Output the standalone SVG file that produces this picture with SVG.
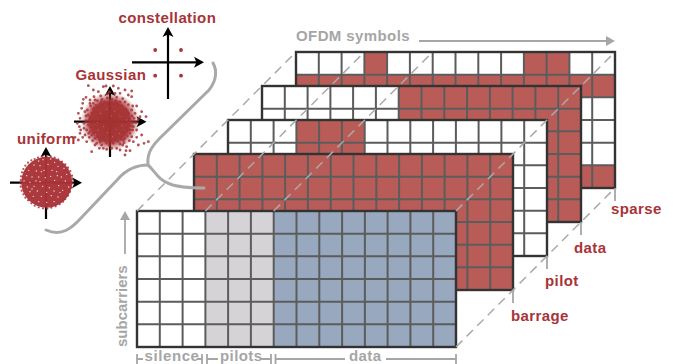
<svg xmlns="http://www.w3.org/2000/svg" width="673" height="364" viewBox="0 0 673 364">
<style>
text{font-family:"Liberation Sans",Arial,sans-serif;font-weight:700;font-size:15px;letter-spacing:.4px}
.lab{fill:#a83338}
.gr{fill:#a6a6a6}
.r{fill:#b95c58}
.w{fill:#fff}
.g{fill:#d5d3d6}
.b{fill:#97a8bf}
.lines{fill:none;stroke:#5c5c5c;stroke-width:2}
.frame{fill:none;stroke:#333;stroke-width:2.4}
.ax{stroke:#000;stroke-width:2.2;fill:none}
.tip{fill:#000}
.curve{fill:none;stroke:#a9a9a9;stroke-width:3;stroke-linecap:round}
.dash{fill:none;stroke:#aaa;stroke-width:1.5;stroke-dasharray:9 6}
.tick{fill:none;stroke:#a6a6a6;stroke-width:1.8}
.pts{fill:none;stroke:#a83338;stroke-linecap:round;stroke-width:8.500;opacity:.85}
</style>
<defs>
<radialGradient id="core">
<stop offset="0" stop-color="#a3302f"/>
<stop offset=".68" stop-color="#a3302f" stop-opacity=".95"/>
<stop offset="1" stop-color="#a83338" stop-opacity="0"/>
</radialGradient>
<g id="grid">
<path class="lines" d="M22.8 0V136M45.600 0V136M68.400 0V136M91.100 0V136M113.900 0V136M136.700 0V136M159.500 0V136M182.300 0V136M205.100 0V136M227.900 0V136M250.600 0V136M273.400 0V136M296.200 0V136M0 22.700H319M0 45.300H319M0 68H319M0 90.700H319M0 113.300H319"/>
<rect class="frame" width="319" height="136"/>
</g>
<path id="ah" class="tip" d="M0 0L-10 -5.500L-7.500 0L-10 5.500Z"/>
</defs>

<g id="symbol-sparse" transform="translate(296 52)">
<rect class="w" width="319" height="136"/>
<rect class="r" y="22.700" width="319" height="22.600"/>
<rect class="r" y="113.300" width="319" height="22.700"/>
<rect class="r" x="68.400" width="22.700" height="22.700"/>
<rect class="r" x="227.900" width="45.500" height="22.700"/>
<use href="#grid"/>
</g>
<g id="symbol-data" transform="translate(262 86)">
<rect class="w" width="319" height="136"/>
<rect class="r" x="136.700" width="182.300" height="136"/>
<use href="#grid"/>
</g>
<g id="symbol-pilot" transform="translate(228 120)">
<rect class="w" width="319" height="136"/>
<rect class="r" x="68.400" width="68.300" height="136"/>
<use href="#grid"/>
</g>
<g id="symbol-barrage" transform="translate(194 154)">
<rect class="r" width="319" height="136"/>
<use href="#grid"/>
</g>
<g id="symbol-front" transform="translate(137 211)">
<rect class="w" width="68.400" height="136"/>
<rect class="g" x="68.400" width="68.300" height="136"/>
<rect class="b" x="136.700" width="182.300" height="136"/>
<use href="#grid"/>
</g>

<g id="constellation">
<path class="ax" d="M132 62.300H197M168 99V34"/>
<use href="#ah" transform="translate(204 62.300)"/>
<use href="#ah" transform="translate(168 27) rotate(-90)"/>
<g fill="#a83338"><circle cx="155.200" cy="50" r="1.900"/><circle cx="181" cy="50" r="1.900"/><circle cx="155.200" cy="75.700" r="1.900"/><circle cx="181" cy="75.700" r="1.900"/></g>
<text class="lab" x="118.500" y="23">constellation</text>
</g>

<g id="gaussian">
<path class="ax" d="M74 121.700H140M110 157V93"/>
<use href="#ah" transform="translate(146.500 121.700)"/>
<use href="#ah" transform="translate(110 86) rotate(-90)"/>
<g transform="translate(70 80) scale(.3333)">
<ellipse cx="120" cy="125" rx="88" ry="88" fill="url(#core)"/>
<path class="pts" d="M55 17h.1M100 20h.1M108 18h.1M130 18h.1M145 25h.1M165 30h.1M185 33h.1M70 30h.1M85 35h.1M92 48h.1M40 58h.1M48 52h.1M60 60h.1M75 60h.1M185 50h.1M175 45h.1M150 40h.1M140 52h.1M158 56h.1M200 78h.1M215 95h.1M228 110h.1M210 110h.1M195 100h.1M185 90h.1M35 85h.1M25 100h.1M30 115h.1M28 140h.1M32 150h.1M45 165h.1M15 172h.1M25 180h.1M30 160h.1M50 185h.1M65 215h.1M100 205h.1M110 208h.1M130 190h.1M150 210h.1M165 225h.1M185 170h.1M190 185h.1M205 195h.1M222 190h.1M235 185h.1M215 165h.1M200 150h.1M190 140h.1M170 200h.1M140 205h.1M118 195h.1M95 195h.1M80 190h.1M68 182h.1M42 130h.1M48 108h.1M52 90h.1M62 78h.1M70 70h.1M82 62h.1M96 58h.1M112 54h.1M126 58h.1M136 62h.1M150 66h.1M165 66h.1M175 74h.1M188 78h.1M192 115h.1M198 128h.1M188 128h.1M180 150h.1M172 168h.1M178 182h.1M162 188h.1M150 192h.1M135 178h.1M105 182h.1M88 178h.1M58 172h.1M50 150h.1M42 145h.1M55 135h.1M58 120h.1M45 95h.1M68 88h.1M78 76h.1M90 72h.1M104 66h.1M120 62h.1M140 72h.1M155 78h.1M168 88h.1M176 100h.1M186 108h.1M180 125h.1M184 138h.1M172 150h.1M165 175h.1M144 184h.1M125 185h.1M110 190h.1M90 186h.1M75 175h.1M65 165h.1M60 155h.1M62 142h.1M54 105h.1M60 70h.1M72 50h.1M38 70h.1M118 36h.1M112 42h.1M135 40h.1M158 195h.1M125 205h.1M88 205h.1M75 195h.1M38 172h.1M22 130h.1M200 172h.1M168 212h.1M180 212h.1M205 118h.1M72 84h.1M84 82h.1M98 76h.1M112 70h.1M130 72h.1M146 76h.1M160 88h.1M172 96h.1M168 106h.1M178 116h.1M174 130h.1M170 142h.1M160 158h.1M150 170h.1M136 172h.1M120 176h.1M100 172h.1M84 170h.1M70 158h.1M64 130h.1M60 112h.1M66 100h.1M74 142h.1M78 96h.1M154 178h.1M94 180h.1M68 116h.1M180 160h.1M56 160h.1M48 122h.1M188 150h.1M160 180h.1M140 64h.1M94 64h.1"/>
<path fill="none" stroke="#d89a94" stroke-linecap="round" stroke-width="3" opacity=".7" d="M92 100h.1M110 88h.1M134 94h.1M150 110h.1M82 128h.1M100 140h.1M138 148h.1M112 158h.1M156 136h.1M84 150h.1M124 108h.1M64 90h.1M170 120h.1M128 170h.1M76 164h.1M148 160h.1"/>
</g>
<text class="lab" x="75.500" y="80">Gaussian</text>
</g>

<g id="uniform">
<path class="ax" d="M10 182.700H76M46 219V154"/>
<use href="#ah" transform="translate(82 182.700)"/>
<use href="#ah" transform="translate(46 147) rotate(-90)"/>
<circle cx="46.700" cy="182.300" r="25.500" fill="#a83338" opacity=".97"/>
<g transform="translate(8 145) scale(.3333)">
<path class="pts" style="stroke-width:6.500" d="M116 33h.1M103 35h.1M90 38h.1M80 42h.1M70 46h.1M60 53h.1M52 62h.1M46 72h.1M42 82h.1M39 94h.1M38 105h.1M37 115h.1M38 125h.1M41 137h.1M46 148h.1M52 158h.1M60 166h.1M70 175h.1M80 182h.1M92 187h.1M105 190h.1M118 191h.1M130 188h.1M143 184h.1M155 178h.1M165 170h.1M172 162h.1M180 152h.1M186 140h.1M191 128h.1M194 115h.1M194 103h.1M192 92h.1M187 78h.1M180 68h.1M172 58h.1M162 50h.1M151 43h.1M140 38h.1M128 34h.1"/>
<path fill="none" stroke="#fff" stroke-linecap="round" stroke-width="4" opacity=".85" d="M92 48h.1M105 44h.1M128 42h.1M140 52h.1M78 60h.1M96 62h.1M120 58h.1M150 64h.1M168 70h.1M62 76h.1M85 78h.1M100 80h.1M108 76h.1M132 76h.1M146 80h.1M176 88h.1M56 92h.1M72 96h.1M92 96h.1M128 94h.1M160 96h.1M48 108h.1M66 112h.1M96 110h.1M140 106h.1M172 108h.1M58 126h.1M78 124h.1M104 124h.1M124 128h.1M152 122h.1M182 126h.1M66 140h.1M88 138h.1M116 142h.1M138 138h.1M164 136h.1M76 154h.1M100 154h.1M130 152h.1M150 156h.1M92 170h.1M116 172h.1M138 170h.1M72 132h.1M148 92h.1M112 98h.1M84 108h.1M156 142h.1"/>
</g>
<text class="lab" x="17" y="144">uniform</text>
</g>

<g id="connectors">
<path class="curve" d="M213 63C217 70 217 80 209 90L160 138C150 148 147 155 148 165"/>
<path class="curve" d="M148 165C134 165 125 171 118 179L82 217C72 228 62 237 46 230"/>
<path class="curve" d="M148 165C155 171 158 180 170 184C180 188 195 188 204 188"/>
<path class="dash" d="M137 211L296 52M205.400 211L364.400 52M273.700 211L432.700 52M456 211L615 52M456 347L615 188"/>
<path class="tick" d="M513 290V303M547 256V269M581 222V235M615 188V201"/>
<path class="tick" d="M419 41H608"/>
<path fill="#a6a6a6" d="M615 41L606 36V46Z"/>
<path class="tick" d="M125 254V219"/>
<path fill="#a6a6a6" d="M125 211L120 220H130Z"/>
<path class="tick" d="M137 354V364M137 359H143M197 359H202M202 354V364M207 354V364M207 359H218M261 359H271M271 354V364M275.500 354V364M275.500 359H345M386 359H456M456 354V364"/>
</g>

<g id="labels">
<text class="gr" x="296" y="41">OFDM symbols</text>
<text class="gr" style="letter-spacing:0" transform="translate(126.500 347) rotate(-90)">subcarriers</text>
<text class="gr" style="letter-spacing:.6px" x="144.500" y="360.700">silence</text>
<text class="gr" x="220" y="360.700">pilots</text>
<text class="gr" x="349" y="360.700">data</text>
<text class="lab" x="611" y="214">sparse</text>
<text class="lab" x="574" y="253">data</text>
<text class="lab" x="545" y="286">pilot</text>
<text class="lab" x="511" y="321">barrage</text>
</g>
</svg>
